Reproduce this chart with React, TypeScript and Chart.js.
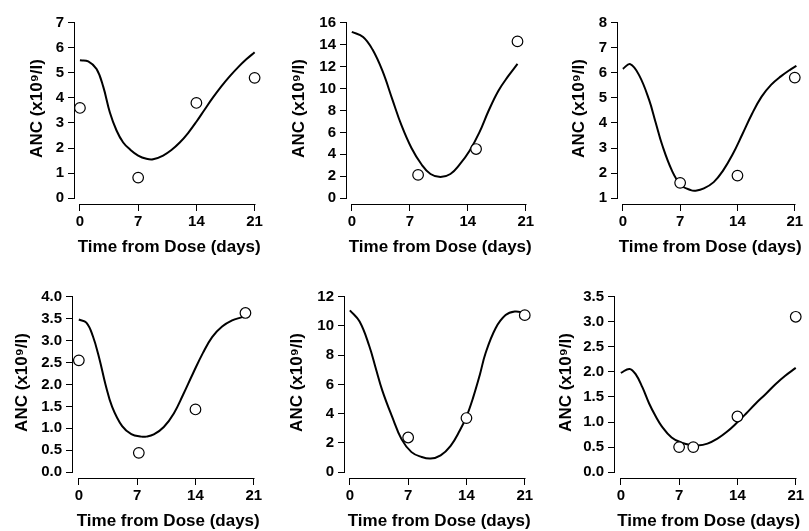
import React, { useEffect, useRef } from 'react';
import { Chart, registerables } from 'chart.js';
Chart.register(...registerables);

// ---------- data ----------
const xTickDays = [0, 7, 14, 21];
const xAxisTitle = 'Time from Dose (days)';
const yAxisTitle = 'ANC (x10⁹/l)';

const p1CurveDays = [0, 1, 2, 2.8, 3.6, 4.4, 5.2, 6, 7, 8, 8.8, 10, 11, 12, 13, 14, 15, 16, 17, 18, 19, 20, 21];
const p1CurveAnc = [5.5, 5.46, 5.15, 4.45, 3.42, 2.7, 2.22, 1.95, 1.7, 1.57, 1.55, 1.7, 1.92, 2.22, 2.6, 3.05, 3.54, 4.02, 4.46, 4.86, 5.22, 5.54, 5.82];
const p1ObsDays = [0, 7, 14, 21];
const p1ObsAnc = [3.6, 0.82, 3.8, 4.8];
const p1YTicks = [0, 1, 2, 3, 4, 5, 6, 7];

const p2CurveDays = [0, 1.36, 2.5, 3.7, 4.9, 6, 7.2, 8.4, 9.5, 10.7, 11.9, 13, 14.2, 15.4, 16.5, 17.7, 18.9, 20];
const p2CurveAnc = [15.17, 14.7, 13.55, 11.6, 8.99, 6.63, 4.57, 3.09, 2.2, 1.92, 2.2, 3.05, 4.3, 6.0, 7.95, 9.8, 11.15, 12.25];
const p2ObsDays = [8, 15, 20];
const p2ObsAnc = [2.12, 4.48, 14.3];
const p2YTicks = [0, 2, 4, 6, 8, 10, 12, 14, 16];

const p3CurveDays = [0, 0.9, 2, 3.2, 4, 4.8, 6, 7.1, 8.3, 8.9, 9.9, 11.1, 12.2, 13.4, 14.6, 15.8, 16.95, 18.1, 19.3, 20.5, 21.2];
const p3CurveAnc = [6.16, 6.35, 5.9, 4.93, 4.03, 3.13, 2.1, 1.52, 1.32, 1.3, 1.39, 1.64, 2.08, 2.74, 3.55, 4.38, 5.05, 5.52, 5.86, 6.14, 6.28];
const p3ObsDays = [7, 14, 21];
const p3ObsAnc = [1.61, 1.9, 5.81];
const p3YTicks = [1, 2, 3, 4, 5, 6, 7, 8];

const p4CurveDays = [0, 0.9, 1.67, 2.45, 3.2, 4, 5.2, 6.3, 7.5, 8.1, 9, 10.2, 11.4, 12.5, 13.7, 14.9, 16, 17.2, 18.4, 19.5, 20];
const p4CurveAnc = [3.48, 3.41, 3.11, 2.6, 2.0, 1.49, 1.05, 0.87, 0.81, 0.81, 0.86, 1.03, 1.34, 1.76, 2.25, 2.72, 3.08, 3.32, 3.46, 3.53, 3.56];
const p4ObsDays = [0, 7.2, 14, 20];
const p4ObsAnc = [2.55, 0.44, 1.43, 3.63];
const p4YTicks = [0, 0.5, 1, 1.5, 2, 2.5, 3, 3.5, 4];

const p5CurveDays = [0, 1.17, 2.33, 3.1, 3.9, 5.06, 6.2, 7.4, 8.6, 9.7, 10.9, 12.1, 13.2, 14, 14.8, 15.6, 16.3, 17.5, 18.7, 19.8, 21];
const p5CurveAnc = [11.07, 10.3, 8.63, 7.13, 5.58, 3.81, 2.26, 1.37, 1.04, 0.93, 1.15, 1.8, 2.85, 3.8, 5.1, 6.65, 8.15, 9.85, 10.75, 10.99, 10.9];
const p5ObsDays = [7, 14, 21];
const p5ObsAnc = [2.37, 3.7, 10.74];
const p5YTicks = [0, 2, 4, 6, 8, 10, 12];

const p6CurveDays = [0, 1.05, 1.8, 2.6, 3.4, 4.2, 4.9, 6.1, 7.3, 8.4, 9.2, 10.4, 11.6, 12.7, 13.9, 15.05, 16.2, 17.4, 18.6, 19.7, 21];
const p6CurveAnc = [1.98, 2.06, 1.95, 1.69, 1.37, 1.11, 0.92, 0.69, 0.59, 0.54, 0.53, 0.57, 0.67, 0.8, 0.98, 1.17, 1.37, 1.56, 1.76, 1.92, 2.08];
const p6ObsDays = [7, 8.7, 14, 21];
const p6ObsAnc = [0.5, 0.5, 1.11, 3.1];
const p6YTicks = [0, 0.5, 1, 1.5, 2, 2.5, 3, 3.5];

const panelsData = [
  { curveDays: p1CurveDays, curveAnc: p1CurveAnc, obsDays: p1ObsDays, obsAnc: p1ObsAnc, yTicks: p1YTicks },
  { curveDays: p2CurveDays, curveAnc: p2CurveAnc, obsDays: p2ObsDays, obsAnc: p2ObsAnc, yTicks: p2YTicks },
  { curveDays: p3CurveDays, curveAnc: p3CurveAnc, obsDays: p3ObsDays, obsAnc: p3ObsAnc, yTicks: p3YTicks },
  { curveDays: p4CurveDays, curveAnc: p4CurveAnc, obsDays: p4ObsDays, obsAnc: p4ObsAnc, yTicks: p4YTicks },
  { curveDays: p5CurveDays, curveAnc: p5CurveAnc, obsDays: p5ObsDays, obsAnc: p5ObsAnc, yTicks: p5YTicks },
  { curveDays: p6CurveDays, curveAnc: p6CurveAnc, obsDays: p6ObsDays, obsAnc: p6ObsAnc, yTicks: p6YTicks },
];

// ---------- layout (pixels, relative to each panel canvas) ----------
const CANVAS_H = 258;
const PLOT_TOP = 8;
const TICK_TOP = 18;
const TICK_BOTTOM = 198;
const AXIS_Y = 204;
const FONT_FAMILY = '"Liberation Sans", Arial, Helvetica, sans-serif';
const TICK_FONT = { family: FONT_FAMILY, size: 15, weight: 'bold' as const };
const TITLE_FONT = { family: FONT_FAMILY, size: 17, weight: 'bold' as const, lineHeight: 1.2 };

const panelLayouts = [
  { left: 0, top: 0, width: 270, axisX: 75, x0: 80, x21: 257, right: 266, yTitleX: 37 },
  { left: 270, top: 0, width: 270, axisX: 77, x0: 82, x21: 262, right: 270, yTitleX: 29 },
  { left: 540, top: 0, width: 269, axisX: 78, x0: 83, x21: 261, right: 269, yTitleX: 39 },
  { left: 0, top: 274, width: 270, axisX: 73, x0: 79, x21: 259, right: 269, yTitleX: 22 },
  { left: 270, top: 274, width: 270, axisX: 75, x0: 80, x21: 260, right: 269, yTitleX: 27 },
  { left: 540, top: 274, width: 269, axisX: 75, x0: 81, x21: 262, right: 269, yTitleX: 26 },
];

function makeAxisPlugin(yTicks: number[]) {
  return {
    id: 'rAxes',
    afterDraw(chart: any) {
      const { ctx, chartArea, scales } = chart;
      const xs = scales.x;
      const ys = scales.y;
      ctx.save();
      ctx.strokeStyle = '#000';
      ctx.lineWidth = 1;
      ctx.beginPath();
      const ax = Math.round(chartArea.left) - 0.5;
      ctx.moveTo(ax, Math.round(ys.getPixelForValue(yTicks[0])) + 0.5);
      ctx.lineTo(ax, Math.round(ys.getPixelForValue(yTicks[yTicks.length - 1])) - 0.5);
      const ay = Math.round(chartArea.bottom) + 0.5;
      ctx.moveTo(Math.round(xs.getPixelForValue(xTickDays[0])) - 0.5, ay);
      ctx.lineTo(Math.round(xs.getPixelForValue(xTickDays[xTickDays.length - 1])) + 0.5, ay);
      ctx.stroke();
      ctx.restore();
    },
  };
}

function Panel({ data, layout }: { data: any; layout: any }) {
  const ref = useRef<HTMLCanvasElement | null>(null);
  useEffect(() => {
    const canvas = ref.current;
    if (!canvas) return;
    const yT: number[] = data.yTicks;
    const tMin = yT[0];
    const tMax = yT[yT.length - 1];
    const pxPerUnit = (TICK_BOTTOM - TICK_TOP) / (tMax - tMin);
    const yMax = tMax + (TICK_TOP - PLOT_TOP) / pxPerUnit;
    const yMin = tMin - (AXIS_Y - TICK_BOTTOM) / pxPerUnit;
    const pxPerDay = (layout.x21 - layout.x0) / 21;
    const xMin = (layout.axisX - layout.x0) / pxPerDay;
    const xMax = 21 + (layout.right - layout.x21) / pxPerDay;
    const decimals = yT.some((v) => !Number.isInteger(v)) ? 1 : 0;

    const gridCfg = {
      display: true,
      drawOnChartArea: false,
      drawTicks: true,
      tickLength: 7,
      color: '#000',
      lineWidth: 1,
    };

    const chart = new Chart(canvas, {
      type: 'line',
      data: {
        datasets: [
          {
            data: data.obsDays.map((d: number, i: number) => ({ x: d, y: data.obsAnc[i] })),
            showLine: false,
            pointRadius: 5.3,
            pointBorderWidth: 1.2,
            pointBackgroundColor: '#fff',
            pointBorderColor: '#000',
            clip: false,
          } as any,
          {
            data: data.curveDays.map((d: number, i: number) => ({ x: d, y: data.curveAnc[i] })),
            borderColor: '#000',
            borderWidth: 2,
            pointRadius: 0,
            tension: 0.4,
            fill: false,
            clip: false,
          } as any,
        ],
      },
      options: {
        animation: false,
        responsive: false,
        events: [],
        layout: { padding: { left: 0, top: PLOT_TOP, right: layout.width - layout.right, bottom: 0 } },
        plugins: { legend: { display: false }, tooltip: { enabled: false } },
        scales: {
          x: {
            type: 'linear',
            min: xMin,
            max: xMax,
            afterBuildTicks: (s: any) => {
              s.ticks = xTickDays.map((v) => ({ value: v }));
            },
            afterFit: (s: any) => {
              s.height = CANVAS_H - AXIS_Y;
            },
            ticks: { font: TICK_FONT, color: '#000', padding: 2, maxRotation: 0, autoSkip: false },
            grid: gridCfg,
            border: { display: false },
            title: { display: true, text: xAxisTitle, font: TITLE_FONT, color: '#000', padding: { top: 0, bottom: 0 } },
          },
          y: {
            type: 'linear',
            min: yMin,
            max: yMax,
            afterBuildTicks: (s: any) => {
              s.ticks = yT.map((v) => ({ value: v }));
            },
            afterFit: (s: any) => {
              s.width = layout.axisX;
            },
            ticks: {
              font: TICK_FONT,
              color: '#000',
              padding: 4,
              autoSkip: false,
              callback: (v: any) => Number(v).toFixed(decimals),
            },
            grid: gridCfg,
            border: { display: false },
            title: {
              display: true,
              text: yAxisTitle,
              font: TITLE_FONT,
              color: '#000',
              padding: { top: layout.yTitleX - 10.2, bottom: 0 },
            },
          },
        },
      } as any,
      plugins: [makeAxisPlugin(yT)],
    });
    return () => chart.destroy();
  }, [data, layout]);

  return (
    <canvas
      ref={ref}
      width={layout.width}
      height={CANVAS_H}
      style={{ position: 'absolute', left: layout.left, top: layout.top, width: layout.width, height: CANVAS_H }}
    />
  );
}

export default function App() {
  return (
    <div style={{ position: 'absolute', left: 0, top: 0, width: 809, height: 531, background: '#fff', overflow: 'hidden' }}>
      {panelsData.map((d, i) => (
        <Panel key={i} data={d} layout={panelLayouts[i]} />
      ))}
    </div>
  );
}
